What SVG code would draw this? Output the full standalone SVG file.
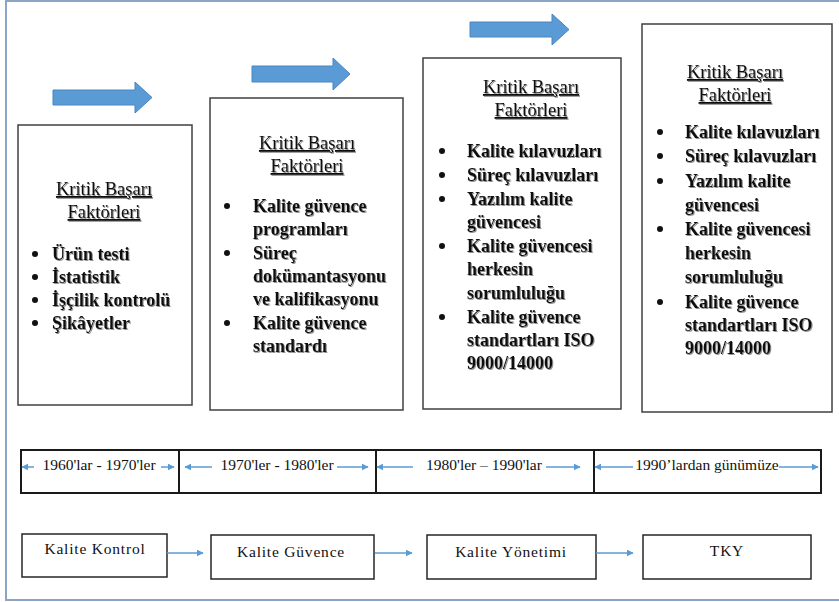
<svg xmlns="http://www.w3.org/2000/svg" width="839" height="602" viewBox="0 0 839 602" font-family="'Liberation Serif', 'Times New Roman', serif">
  <defs>
    <filter id="shadow" x="-5%" y="-20%" width="110%" height="140%">
      <feDropShadow dx="1" dy="1" stdDeviation="0.4" flood-color="#777" flood-opacity="0.8"/>
    </filter>
    <marker id="tip" viewBox="0 0 10 10" refX="9" refY="5" markerWidth="7" markerHeight="7" markerUnits="userSpaceOnUse" orient="auto-start-reverse">
      <path d="M0,0 L10,5 L0,10 Z" fill="#5b9bd5"/>
    </marker>
  </defs>
  <style>
    .frame { fill: none; stroke: #8aa6c4; stroke-width: 2; }
    .card { fill: #fff; stroke: #404040; stroke-width: 1.5; }
    .cell { fill: #fff; stroke: #1a1a1a; stroke-width: 2; }
    .stage { fill: #fff; stroke: #262626; stroke-width: 1.5; }
    text { font-family: "Liberation Serif", serif; fill: #111; }
    .title { font-size: 18.5px; text-anchor: middle; text-decoration: underline; filter: url(#shadow); }
    .item { font-size: 18px; font-weight: bold; filter: url(#shadow); }
    .bullet { fill: #111; }
    .period { font-size: 15.5px; text-anchor: middle; }
    .label { font-size: 15.5px; text-anchor: middle; letter-spacing: 0.8px; }
    .block { fill: #5b9bd5; stroke: #4a86c0; stroke-width: 1; }
    .link { stroke: #5b9bd5; stroke-width: 1.5; fill: none; marker-end: url(#tip); }
  </style>

  <rect width="839" height="602" fill="#fff"/>
  <!-- outer frame (left, top, bottom) -->
  <path class="frame" d="M839,1 H6 V600 H839"/>

  <!-- era cards -->
  <g id="card-1960s">
    <rect class="card" x="18" y="125" width="174" height="280"/>
    <text class="title" x="104" y="195">Kritik Başarı</text>
    <text class="title" x="104" y="218">Faktörleri</text>
    <circle class="bullet" cx="35" cy="254" r="3"/>
    <circle class="bullet" cx="35" cy="277" r="3"/>
    <circle class="bullet" cx="35" cy="300" r="3"/>
    <circle class="bullet" cx="35" cy="323" r="3"/>
    <text class="item" x="52" y="260">Ürün testi</text>
    <text class="item" x="52" y="283">İstatistik</text>
    <text class="item" x="52" y="306">İşçilik kontrolü</text>
    <text class="item" x="52" y="329">Şikâyetler</text>
  </g>

  <g id="card-1970s">
    <rect class="card" x="210" y="98" width="193" height="312"/>
    <text class="title" x="307" y="149">Kritik Başarı</text>
    <text class="title" x="307" y="172">Faktörleri</text>
    <circle class="bullet" cx="227" cy="206" r="3"/>
    <circle class="bullet" cx="227" cy="253" r="3"/>
    <circle class="bullet" cx="227" cy="323" r="3"/>
    <text class="item" x="253" y="212">Kalite güvence</text>
    <text class="item" x="253" y="235">programları</text>
    <text class="item" x="253" y="259">Süreç</text>
    <text class="item" x="253" y="282">dokümantasyonu</text>
    <text class="item" x="253" y="305">ve kalifikasyonu</text>
    <text class="item" x="253" y="329">Kalite güvence</text>
    <text class="item" x="253" y="352">standardı</text>
  </g>

  <g id="card-1980s">
    <rect class="card" x="423" y="58" width="198" height="351"/>
    <text class="title" x="531" y="93">Kritik Başarı</text>
    <text class="title" x="531" y="116">Faktörleri</text>
    <circle class="bullet" cx="442" cy="151" r="3"/>
    <circle class="bullet" cx="442" cy="175" r="3"/>
    <circle class="bullet" cx="442" cy="199" r="3"/>
    <circle class="bullet" cx="442" cy="246" r="3"/>
    <circle class="bullet" cx="442" cy="317" r="3"/>
    <text class="item" x="467" y="157">Kalite kılavuzları</text>
    <text class="item" x="467" y="181">Süreç kılavuzları</text>
    <text class="item" x="467" y="205">Yazılım kalite</text>
    <text class="item" x="467" y="228">güvencesi</text>
    <text class="item" x="467" y="252">Kalite güvencesi</text>
    <text class="item" x="467" y="275">herkesin</text>
    <text class="item" x="467" y="299">sorumluluğu</text>
    <text class="item" x="467" y="323">Kalite güvence</text>
    <text class="item" x="467" y="346">standartları ISO</text>
    <text class="item" x="467" y="369">9000/14000</text>
  </g>

  <g id="card-1990s">
    <rect class="card" x="642" y="24" width="190" height="388"/>
    <text class="title" x="735" y="78">Kritik Başarı</text>
    <text class="title" x="735" y="101">Faktörleri</text>
    <circle class="bullet" cx="660" cy="132" r="3"/>
    <circle class="bullet" cx="660" cy="156" r="3"/>
    <circle class="bullet" cx="660" cy="181" r="3"/>
    <circle class="bullet" cx="660" cy="229" r="3"/>
    <circle class="bullet" cx="660" cy="302" r="3"/>
    <text class="item" x="685" y="138">Kalite kılavuzları</text>
    <text class="item" x="685" y="162">Süreç kılavuzları</text>
    <text class="item" x="685" y="187">Yazılım kalite</text>
    <text class="item" x="685" y="211">güvencesi</text>
    <text class="item" x="685" y="235">Kalite güvencesi</text>
    <text class="item" x="685" y="259">herkesin</text>
    <text class="item" x="685" y="283">sorumluluğu</text>
    <text class="item" x="685" y="308">Kalite güvence</text>
    <text class="item" x="685" y="331">standartları ISO</text>
    <text class="item" x="685" y="354">9000/14000</text>
  </g>

  <!-- timeline periods -->
  <g id="period-1">
    <rect class="cell" x="21" y="450" width="158" height="43"/>
    <text class="period" x="99" y="470">1960'lar - 1970'ler</text>
  </g>
  <g id="period-2">
    <rect class="cell" x="179" y="450" width="197" height="43"/>
    <text class="period" x="277" y="470">1970'ler - 1980'ler</text>
  </g>
  <g id="period-3">
    <rect class="cell" x="376" y="450" width="218" height="43"/>
    <text class="period" x="484" y="470">1980'ler – 1990'lar</text>
  </g>
  <g id="period-4">
    <rect class="cell" x="594" y="450" width="227" height="43"/>
    <text class="period" x="707" y="470">1990’lardan günümüze</text>
  </g>

  <!-- stages -->
  <g id="stage-kk">
    <rect class="stage" x="22" y="534" width="145" height="43"/>
    <text class="label" x="95" y="554">Kalite Kontrol</text>
  </g>
  <g id="stage-kg">
    <rect class="stage" x="211" y="535" width="163" height="44"/>
    <text class="label" x="291" y="557">Kalite Güvence</text>
  </g>
  <g id="stage-ky">
    <rect class="stage" x="427" y="535" width="169" height="44"/>
    <text class="label" x="511" y="557">Kalite Yönetimi</text>
  </g>
  <g id="stage-tky">
    <rect class="stage" x="643" y="535" width="168" height="44"/>
    <text class="label" x="727" y="556">TKY</text>
  </g>

  <g id="connectors">
    <!-- block arrows between cards -->
    <path class="block" d="M53,90 H135 V82 L152,97.5 L135,113 V105 H53 Z"/>
    <path class="block" d="M252,66 H333 V58 L350,74 L333,90 V82 H252 Z"/>
    <path class="block" d="M470,22 H552 V14 L569,29.5 L552,45 V37 H470 Z"/>

    <!-- period span arrows -->
    <line class="link" x1="34" y1="467" x2="22" y2="467"/>
    <line class="link" x1="161" y1="467" x2="174" y2="467"/>
    <line class="link" x1="212" y1="467" x2="185" y2="467"/>
    <line class="link" x1="337" y1="467" x2="368" y2="467"/>
    <line class="link" x1="413" y1="467" x2="377" y2="467"/>
    <line class="link" x1="546" y1="467" x2="580" y2="467"/>
    <line class="link" x1="633" y1="467" x2="595" y2="467"/>
    <line class="link" x1="779" y1="467" x2="818" y2="467"/>

    <!-- stage transitions -->
    <line class="link" x1="167" y1="553" x2="203" y2="553"/>
    <line class="link" x1="375" y1="553" x2="412" y2="553"/>
    <line class="link" x1="596" y1="553" x2="633" y2="553"/>
  </g>
</svg>
